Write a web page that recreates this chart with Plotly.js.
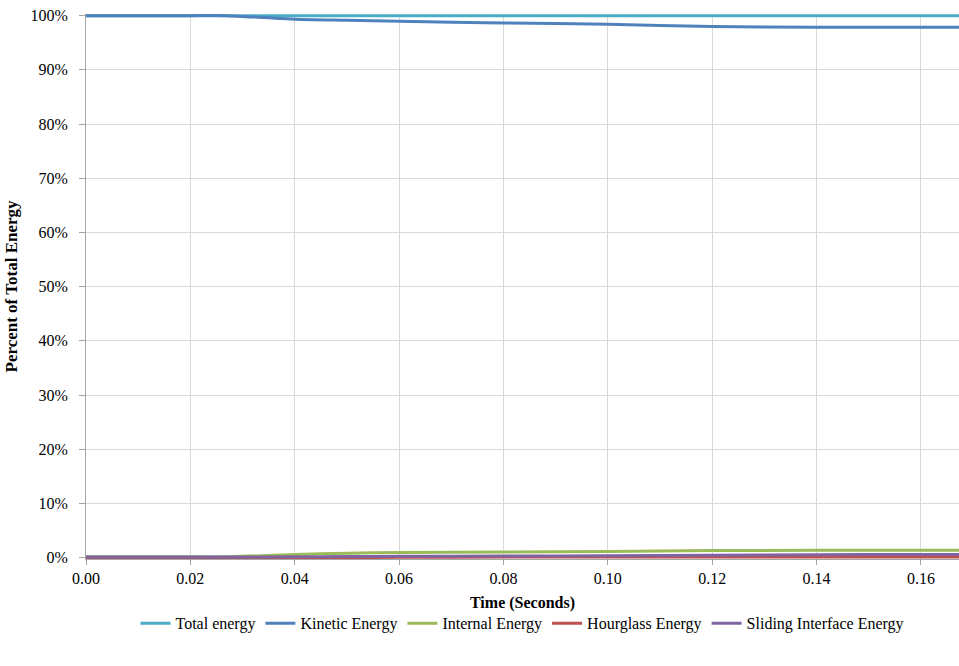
<!DOCTYPE html>
<html>
<head>
<meta charset="utf-8">
<script src="https://cdn.plot.ly/plotly-3.0.1.min.js"></script>
<style>html,body{margin:0;padding:0;background:#fff;}#chart{width:959px;height:666px;}</style>
</head>
<body>
<div id="chart"></div>
<script>
const time = [0, 0.01, 0.02, 0.027, 0.04, 0.05, 0.06, 0.08, 0.10, 0.12, 0.14, 0.16, 0.17];
const totalEnergy = [100, 100, 100, 100, 100, 100, 100, 100, 100, 100, 100, 100, 100];
const kineticEnergy = [100, 100, 100, 100, 99.35, 99.15, 98.95, 98.66, 98.4, 98.0, 97.87, 97.85, 97.85];
const internalEnergy = [0.15, 0.15, 0.15, 0.15, 0.6, 0.8, 0.95, 1.05, 1.15, 1.3, 1.35, 1.35, 1.35];
const hourglassEnergy = [0, 0, 0, 0, 0.02, 0.04, 0.06, 0.1, 0.12, 0.13, 0.14, 0.14, 0.14];
const slidingEnergy = [0.1, 0.1, 0.1, 0.1, 0.15, 0.2, 0.25, 0.3, 0.35, 0.45, 0.55, 0.6, 0.6];
const seriesNames = ["Total energy", "Kinetic Energy", "Internal Energy", "Hourglass Energy", "Sliding Interface Energy"];
const seriesValues = [totalEnergy, kineticEnergy, internalEnergy, hourglassEnergy, slidingEnergy];
const colors = ["#4bacc6", "#4f81bd", "#9bbb59", "#c0504d", "#8064a2"];
const xTicks = [0, 0.02, 0.04, 0.06, 0.08, 0.10, 0.12, 0.14, 0.16];
const xTickLabels = ["0.00", "0.02", "0.04", "0.06", "0.08", "0.10", "0.12", "0.14", "0.16"];
const yTicks = [0, 10, 20, 30, 40, 50, 60, 70, 80, 90, 100];
const yTickLabels = ["0%", "10%", "20%", "30%", "40%", "50%", "60%", "70%", "80%", "90%", "100%"];

const traces = seriesNames.map((n, i) => ({
  x: time, y: seriesValues[i], name: n, type: "scatter", mode: "lines",
  line: {color: colors[i], width: 3, shape: "spline", smoothing: 0.6}
}));

const font = "Liberation Serif";
const layout = {
  width: 959, height: 666,
  margin: {l: 86, r: 0, t: 14, b: 107},
  paper_bgcolor: "#fff", plot_bgcolor: "#fff",
  font: {family: font, size: 16, color: "#000"},
  showlegend: true,
  legend: {orientation: "h", x: 0.5, xanchor: "center", y: -0.118, yanchor: "middle",
           font: {family: font, size: 16, color: "#000"}, itemwidth: 30, tracegroupgap: 0},
  xaxis: {
    range: [0, 0.1673], tickmode: "array", tickvals: xTicks, ticktext: xTickLabels,
    showgrid: true, gridcolor: "#d9d9d9", gridwidth: 1,
    showline: true, linecolor: "#a6a6a6", linewidth: 1, zeroline: false,
    ticks: "outside", ticklen: 5, tickcolor: "#a6a6a6",
    tickfont: {family: font, size: 16, color: "#000"},
    title: {text: "<b>Time (Seconds)</b>", font: {family: font, size: 16, color: "#000"}, standoff: 10}
  },
  yaxis: {
    range: [-0.25, 100.3], tickmode: "array", tickvals: yTicks, ticktext: yTickLabels,
    showgrid: true, gridcolor: "#d9d9d9", gridwidth: 1,
    showline: true, linecolor: "#a6a6a6", linewidth: 1, zeroline: false,
    ticks: "outside", ticklen: 6, tickcolor: "#a6a6a6", ticklabelstandoff: 8,
    tickfont: {family: font, size: 16, color: "#000"},
    title: {text: "<b>Percent of Total Energy</b>", font: {family: font, size: 17, color: "#000"}, standoff: 8}
  }
};
Plotly.newPlot("chart", traces, layout, {displayModeBar: false, staticPlot: true});
</script>
</body>
</html>
